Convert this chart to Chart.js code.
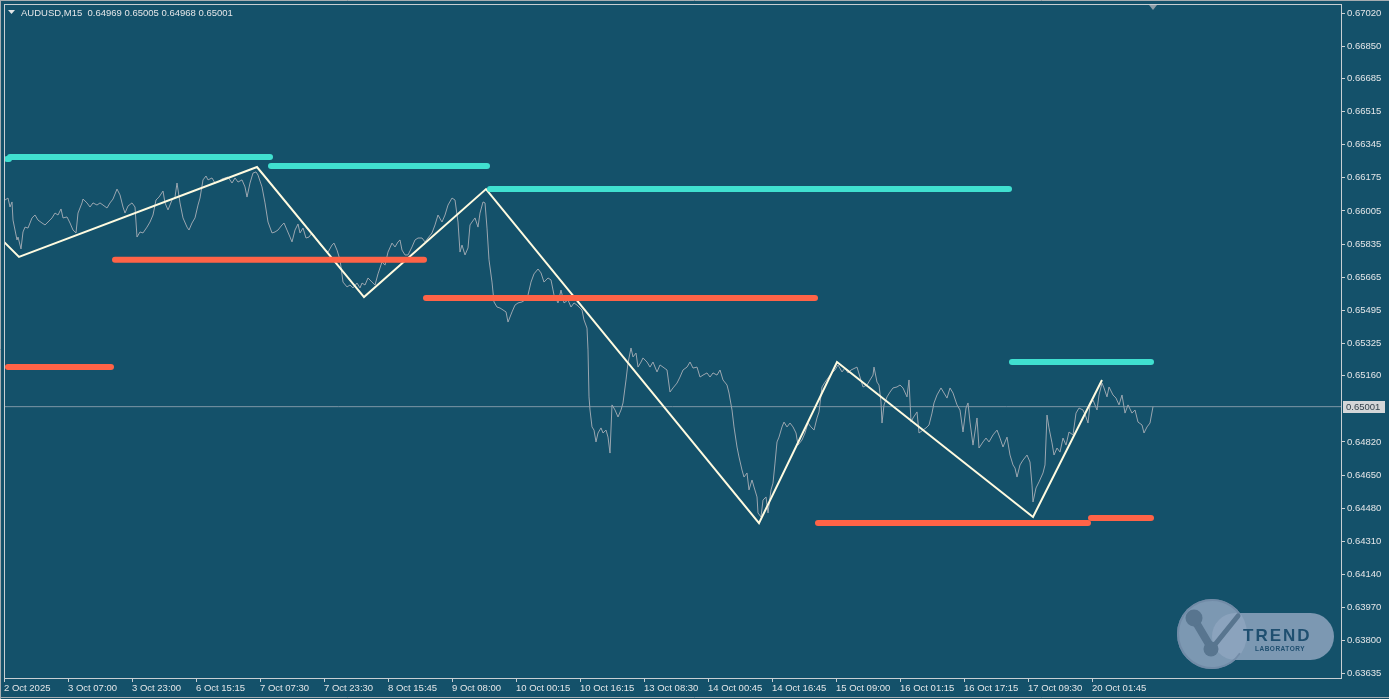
<!DOCTYPE html>
<html>
<head>
<meta charset="utf-8">
<title>AUDUSD M15</title>
<script src="https://cdn.jsdelivr.net/npm/chart.js@4.4.1/dist/chart.umd.min.js"></script>
<style>
  html, body { margin: 0; padding: 0; background: #14516a; overflow: hidden; }
  canvas { display: block; }
</style>
</head>
<body>
<canvas id="fx" width="1389" height="699"></canvas>
<script>
// ----- Header -----
const symbol = "AUDUSD,M15";
const lastOHLC = [0.64969, 0.65005, 0.64968, 0.65001];

// ----- Axis labels -----
const timeTickBars = [0, 64, 128, 192, 256, 320, 384, 448, 512, 576, 640, 704, 768, 832, 896, 960, 1024, 1088];
const timeLabels = [
  "2 Oct 2025", "3 Oct 07:00", "3 Oct 23:00", "6 Oct 15:15", "7 Oct 07:30", "7 Oct 23:30",
  "8 Oct 15:45", "9 Oct 08:00", "10 Oct 00:15", "10 Oct 16:15", "13 Oct 08:30", "14 Oct 00:45",
  "14 Oct 16:45", "15 Oct 09:00", "16 Oct 01:15", "16 Oct 17:15", "17 Oct 09:30", "20 Oct 01:45"
];
const priceTicks = [
  0.67020, 0.66850, 0.66685, 0.66515, 0.66345, 0.66175, 0.66005, 0.65835, 0.65665, 0.65495,
  0.65325, 0.65160, 0.64820, 0.64650, 0.64480, 0.64310, 0.64140, 0.63970, 0.63800, 0.63635
];
const priceMin = 0.636094, priceMax = 0.670662;
const barsVisible = 1337;

// ----- Close prices (bar index from chart start, close) -----
const closeBars = [
  1, 4, 6, 8, 9, 13, 14, 17, 19, 21, 24, 28, 31, 34, 38, 41, 44, 48, 51, 54,
  57, 59, 63, 66, 69, 72, 74, 78, 79, 83, 86, 89, 93, 96, 99, 103, 106, 109, 113, 116,
  119, 121, 124, 128, 131, 133, 136, 139, 143, 146, 149, 152, 155, 159, 161, 164, 168, 171, 173, 176,
  179, 183, 185, 188, 191, 194, 196, 199, 202, 204, 208, 211, 214, 218, 221, 224, 228, 231, 234, 238,
  241, 243, 246, 249, 252, 254, 258, 261, 264, 268, 271, 274, 278, 280, 283, 286, 288, 291, 294, 296,
  299, 302, 305, 308, 311, 314, 318, 321, 324, 328, 330, 333, 336, 339, 343, 346, 349, 353, 356, 358,
  361, 364, 368, 371, 374, 378, 381, 384, 388, 391, 394, 396, 398, 401, 404, 408, 411, 414, 418, 421,
  424, 428, 431, 434, 438, 441, 444, 448, 451, 454, 456, 458, 461, 464, 466, 468, 471, 474, 476, 479,
  481, 483, 485, 488, 490, 493, 496, 499, 502, 504, 508, 511, 514, 518, 521, 524, 527, 530, 534, 537,
  540, 544, 547, 550, 554, 557, 560, 564, 567, 570, 573, 578, 580, 583, 584, 585, 586, 588, 590, 592,
  594, 597, 599, 602, 604, 606, 608, 611, 614, 617, 619, 622, 624, 627, 629, 632, 634, 637, 639, 643,
  646, 649, 653, 656, 659, 663, 666, 669, 673, 676, 679, 683, 686, 689, 693, 696, 699, 703, 706, 709,
  713, 716, 719, 723, 725, 728, 730, 733, 735, 738, 740, 743, 745, 748, 750, 753, 754, 757, 759, 762,
  764, 767, 769, 771, 773, 775, 778, 780, 783, 786, 789, 792, 794, 798, 801, 804, 807, 810, 813, 815,
  818, 821, 824, 828, 831, 834, 838, 841, 844, 847, 851, 853, 856, 859, 863, 866, 869, 870, 873, 875,
  877, 878, 880, 883, 886, 889, 893, 896, 899, 903, 905, 907, 909, 913, 915, 919, 922, 925, 928, 930,
  933, 937, 940, 943, 946, 949, 953, 956, 959, 962, 964, 966, 969, 973, 975, 979, 982, 985, 989, 993,
  996, 999, 1003, 1006, 1009, 1011, 1013, 1016, 1019, 1023, 1026, 1028, 1029, 1032, 1035, 1039, 1041, 1043, 1045, 1048,
  1050, 1053, 1056, 1059, 1062, 1065, 1069, 1072, 1075, 1079, 1082, 1084, 1086, 1089, 1093, 1095, 1098, 1100, 1103, 1105,
  1109, 1112, 1115, 1118, 1121, 1124, 1128, 1131, 1134, 1138, 1140, 1143, 1146, 1149
];
const closePrices = [
  0.66061, 0.66071, 0.66025, 0.66051, 0.65958, 0.65856, 0.65871, 0.65810, 0.65897, 0.65922, 0.65917, 0.65969, 0.65984, 0.65958, 0.65943, 0.65933, 0.65948, 0.65969, 0.65994, 0.65984,
  0.66015, 0.65969, 0.65974, 0.65943, 0.65907, 0.65892, 0.65994, 0.66046, 0.66066, 0.66046, 0.66025, 0.66046, 0.66035, 0.66046, 0.66035, 0.66020, 0.66046, 0.66066, 0.66117, 0.66087,
  0.66025, 0.65994, 0.66030, 0.66046, 0.66025, 0.65871, 0.65897, 0.65892, 0.65922, 0.65948, 0.65984, 0.66061, 0.66076, 0.66107, 0.66046, 0.66010, 0.66061, 0.66076, 0.66148, 0.66046,
  0.65969, 0.65922, 0.65907, 0.65943, 0.65969, 0.66035, 0.66071, 0.66164, 0.66184, 0.66164, 0.66174, 0.66148, 0.66153, 0.66169, 0.66174, 0.66179, 0.66148, 0.66174, 0.66153, 0.66164,
  0.66128, 0.66076, 0.66148, 0.66199, 0.66205, 0.66189, 0.66128, 0.66046, 0.65948, 0.65892, 0.65897, 0.65907, 0.65933, 0.65943, 0.65907, 0.65871, 0.65846, 0.65907, 0.65938, 0.65892,
  0.65917, 0.65866, 0.65871, 0.65892, 0.65871, 0.65846, 0.65820, 0.65804, 0.65794, 0.65830, 0.65840, 0.65804, 0.65754, 0.65640, 0.65615, 0.65625, 0.65610, 0.65635, 0.65610, 0.65635,
  0.65625, 0.65661, 0.65640, 0.65625, 0.65682, 0.65743, 0.65727, 0.65794, 0.65840, 0.65820, 0.65846, 0.65856, 0.65804, 0.65779, 0.65779, 0.65820, 0.65856, 0.65866, 0.65866, 0.65846,
  0.65866, 0.65892, 0.65933, 0.65984, 0.65948, 0.65984, 0.66035, 0.66071, 0.66061, 0.65948, 0.65794, 0.65830, 0.65779, 0.65815, 0.65933, 0.65948, 0.65969, 0.65922, 0.65994, 0.66051,
  0.66046, 0.65917, 0.65754, 0.65640, 0.65538, 0.65512, 0.65507, 0.65497, 0.65487, 0.65435, 0.65487, 0.65522, 0.65533, 0.65538, 0.65548, 0.65574, 0.65640, 0.65682, 0.65707, 0.65687,
  0.65640, 0.65661, 0.65651, 0.65574, 0.65533, 0.65599, 0.65533, 0.65548, 0.65512, 0.65533, 0.65522, 0.65497, 0.65446, 0.65404, 0.65292, 0.65051, 0.64984, 0.64897, 0.64881, 0.64820,
  0.64866, 0.64892, 0.64866, 0.64881, 0.64845, 0.64763, 0.65010, 0.64984, 0.64948, 0.64984, 0.65020, 0.65138, 0.65225, 0.65302, 0.65256, 0.65276, 0.65204, 0.65230, 0.65251, 0.65230,
  0.65204, 0.65230, 0.65179, 0.65215, 0.65204, 0.65189, 0.65076, 0.65097, 0.65122, 0.65153, 0.65189, 0.65204, 0.65230, 0.65199, 0.65204, 0.65153, 0.65163, 0.65174, 0.65153, 0.65174,
  0.65163, 0.65189, 0.65138, 0.65112, 0.65071, 0.64984, 0.64897, 0.64794, 0.64743, 0.64676, 0.64640, 0.64661, 0.64574, 0.64625, 0.64589, 0.64538, 0.64456, 0.64435, 0.64522, 0.64538,
  0.64456, 0.64574, 0.64609, 0.64712, 0.64820, 0.64845, 0.64897, 0.64922, 0.64897, 0.64917, 0.64897, 0.64866, 0.64804, 0.64830, 0.64866, 0.64917, 0.64897, 0.64881, 0.64943, 0.64974,
  0.65102, 0.65127, 0.65148, 0.65174, 0.65189, 0.65215, 0.65179, 0.65199, 0.65174, 0.65189, 0.65199, 0.65204, 0.65153, 0.65102, 0.65112, 0.65138, 0.65163, 0.65204, 0.65127, 0.65112,
  0.65025, 0.64917, 0.65010, 0.65051, 0.65076, 0.65097, 0.65102, 0.65112, 0.65097, 0.65051, 0.65138, 0.64922, 0.64943, 0.64974, 0.64866, 0.64881, 0.64892, 0.64907, 0.64968, 0.65020,
  0.65061, 0.65097, 0.65071, 0.65045, 0.65097, 0.65071, 0.65010, 0.64984, 0.64871, 0.64994, 0.65020, 0.64922, 0.64804, 0.64943, 0.64789, 0.64820, 0.64840, 0.64820, 0.64856, 0.64881,
  0.64840, 0.64794, 0.64845, 0.64753, 0.64702, 0.64686, 0.64640, 0.64702, 0.64727, 0.64753, 0.64717, 0.64599, 0.64512, 0.64584, 0.64615, 0.64661, 0.64702, 0.64958, 0.64892, 0.64815,
  0.64753, 0.64789, 0.64768, 0.64840, 0.64804, 0.64871, 0.64856, 0.64968, 0.64994, 0.64984, 0.64948, 0.64917, 0.65010, 0.65035, 0.64984, 0.65061, 0.65122, 0.65097, 0.65051, 0.65102,
  0.65061, 0.65045, 0.65010, 0.65061, 0.64968, 0.65010, 0.64968, 0.64984, 0.64922, 0.64907, 0.64866, 0.64897, 0.64917, 0.65001
];

// ----- ZigZag swing points -----
const zigzagBars = [0, 15, 253, 360, 482, 755, 833, 1029, 1098];
const zigzagPrices = [0.65846, 0.65769, 0.66230, 0.65563, 0.66117, 0.64404, 0.65230, 0.64435, 0.65138];

// ----- Resistance / support levels: [start bar, end bar, price] -----
const resStart = [3, 6, 267, 486, 1008];
const resEnd = [5, 266, 483, 1005, 1147];
const resLevel = [0.66271, 0.66282, 0.66235, 0.66117, 0.65230];
const supStart = [4, 111, 422, 814, 1087];
const supEnd = [107, 420, 811, 1084, 1147];
const supLevel = [0.65204, 0.65754, 0.65558, 0.64404, 0.64430];

// ----- Colours -----
const BG = "#14516a";
const FRAME = "#c9cfd3";
const TXT = "#e4e6e8";
const RES = "#40e0d0";
const SUP = "#ff6347";
const FONT = "'Liberation Sans', Arial, sans-serif";

const lastClose = closePrices[closePrices.length - 1];
const lastBar = closeBars[closeBars.length - 1];

function segment(s, e, lvl, color) {
  return {
    data: [{ x: s, y: lvl }, { x: e, y: lvl }],
    borderColor: color,
    borderWidth: 6,
    borderCapStyle: "round",
    pointRadius: 0
  };
}

const datasets = [];
resStart.forEach((s, i) => datasets.push(segment(s, resEnd[i], resLevel[i], RES)));
supStart.forEach((s, i) => datasets.push(segment(s, supEnd[i], supLevel[i], SUP)));
datasets.push({
  data: zigzagBars.map((b, i) => ({ x: b, y: zigzagPrices[i] })),
  borderColor: "#fffbe0",
  borderWidth: 2,
  pointRadius: 0
});
datasets.push({
  data: closeBars.map((b, i) => ({ x: b, y: closePrices[i] })),
  borderColor: "#9aa6b0",
  borderWidth: 1,
  pointRadius: 0
});
datasets.push({
  data: [{ x: 0, y: lastClose }, { x: barsVisible, y: lastClose }],
  borderColor: "#7d97a6",
  borderWidth: 1,
  pointRadius: 0
});

// no automatic label padding: the plot box is fixed like the terminal's
function fixBox(s) {
  s.paddingTop = 0; s.paddingBottom = 0;
  s.paddingLeft = 0; s.paddingRight = 0;
}

// ----- Chrome: header, frame, price tag, watermark -----
const chrome = {
  id: "chrome",
  beforeDraw(c) {
    const g = c.ctx;
    g.save();
    g.fillStyle = BG;
    g.fillRect(0, 0, c.width, c.height);
    g.restore();
  },
  afterDatasetsDraw(c) {
    const g = c.ctx;
    g.save();
    // watermark logo
    const cx = 1212, cy = 634;
    g.fillStyle = "rgba(142,165,190,0.85)";
    g.beginPath();
    g.arc(cx, cy, 35, 0, Math.PI * 2);
    g.fill();
    g.beginPath();
    g.roundRect(cx, 613, 122, 47, 23.5);
    g.fill();
    g.strokeStyle = "rgba(112,138,165,0.9)";
    g.lineWidth = 2;
    g.beginPath();
    g.arc(cx, cy, 34, 0.6, Math.PI * 2 - 0.6);
    g.stroke();
    // icon
    g.strokeStyle = "#58758f";
    g.fillStyle = "#58758f";
    g.lineCap = "round";
    g.lineWidth = 8;
    g.beginPath();
    g.moveTo(1194, 619);
    g.lineTo(1210, 646);
    g.stroke();
    g.beginPath();
    g.arc(1194, 618, 8.5, 0, Math.PI * 2);
    g.fill();
    g.beginPath();
    g.arc(1211, 649, 7.5, 0, Math.PI * 2);
    g.fill();
    g.lineWidth = 5;
    g.beginPath();
    g.moveTo(1213, 647);
    g.lineTo(1238, 616);
    g.stroke();
    // text
    g.fillStyle = "#1f4f70";
    g.textBaseline = "alphabetic";
    g.textAlign = "left";
    g.font = "bold 17px " + FONT;
    g.letterSpacing = "2px";
    g.fillText("TREND", 1243, 641);
    g.font = "bold 6.5px " + FONT;
    g.letterSpacing = "0.5px";
    g.fillText("LABORATORY", 1255, 651);
    g.restore();
  },
  afterDraw(c) {
    const g = c.ctx;
    const a = c.chartArea;
    g.save();
    // outer window frame
    g.strokeStyle = "#a7adb1";
    g.lineWidth = 1;
    g.beginPath();
    g.moveTo(0.5, 0); g.lineTo(0.5, 699);
    g.moveTo(0, 0.5); g.lineTo(1389, 0.5);
    g.moveTo(0, 697.5); g.lineTo(1389, 697.5);
    g.stroke();
    // plot frame
    g.strokeStyle = FRAME;
    g.strokeRect(a.left + 0.5, a.top + 0.5, a.right - a.left, a.bottom - a.top);

    // header
    g.fillStyle = TXT;
    g.beginPath();
    g.moveTo(8, 10); g.lineTo(15, 10); g.lineTo(11.5, 14);
    g.closePath();
    g.fill();
    g.font = "9.5px " + FONT;
    g.textBaseline = "middle";
    g.textAlign = "left";
    g.fillText(symbol + "  " + lastOHLC.map(v => v.toFixed(5)).join(" "), 21, 13);

    // chart shift marker
    const mx = c.scales.x.getPixelForValue(lastBar);
    g.fillStyle = "#8d9ea8";
    g.beginPath();
    g.moveTo(mx - 4, a.top + 1); g.lineTo(mx + 4, a.top + 1); g.lineTo(mx, a.top + 6);
    g.closePath();
    g.fill();

    // current price tag
    const py = Math.round(c.scales.y.getPixelForValue(lastClose));
    g.fillStyle = "#d4d6d8";
    g.fillRect(a.right + 2, py - 6, 42, 12);
    g.fillStyle = "#33424c";
    g.fillText(lastClose.toFixed(5), a.right + 5, py + 0.5);
    g.restore();
  }
};

const ctx = document.getElementById("fx").getContext("2d");
const chart = new Chart(ctx, {
  type: "line",
  data: { datasets },
  options: {
    responsive: false,
    animation: false,
    events: [],
    layout: { padding: { left: 4, top: 4, right: 0, bottom: 0 } },
    plugins: { legend: { display: false }, tooltip: { enabled: false } },
    elements: { line: { tension: 0 }, point: { radius: 0 } },
    scales: {
      x: {
        type: "linear",
        min: 0,
        max: barsVisible,
        afterBuildTicks: s => { s.ticks = timeTickBars.map(v => ({ value: v })); },
        afterFit: s => { s.height = 21; fixBox(s); },
        ticks: {
          autoSkip: false,
          maxRotation: 0,
          align: "start",
          padding: 1,
          color: TXT,
          font: { family: FONT, size: 9.5 },
          callback: (v, i) => timeLabels[i]
        },
        grid: { drawOnChartArea: false, drawTicks: true, tickLength: 4, color: FRAME },
        border: { display: true, color: FRAME }
      },
      y: {
        position: "right",
        min: priceMin,
        max: priceMax,
        afterBuildTicks: s => { s.ticks = priceTicks.map(v => ({ value: v })); },
        afterFit: s => { s.width = 48; fixBox(s); },
        ticks: {
          autoSkip: false,
          padding: 2,
          color: TXT,
          font: { family: FONT, size: 9.5 },
          callback: v => v.toFixed(5)
        },
        grid: { drawOnChartArea: false, drawTicks: true, tickLength: 4, color: FRAME },
        border: { display: true, color: FRAME }
      }
    }
  },
  plugins: [chrome]
});
</script>
</body>
</html>
